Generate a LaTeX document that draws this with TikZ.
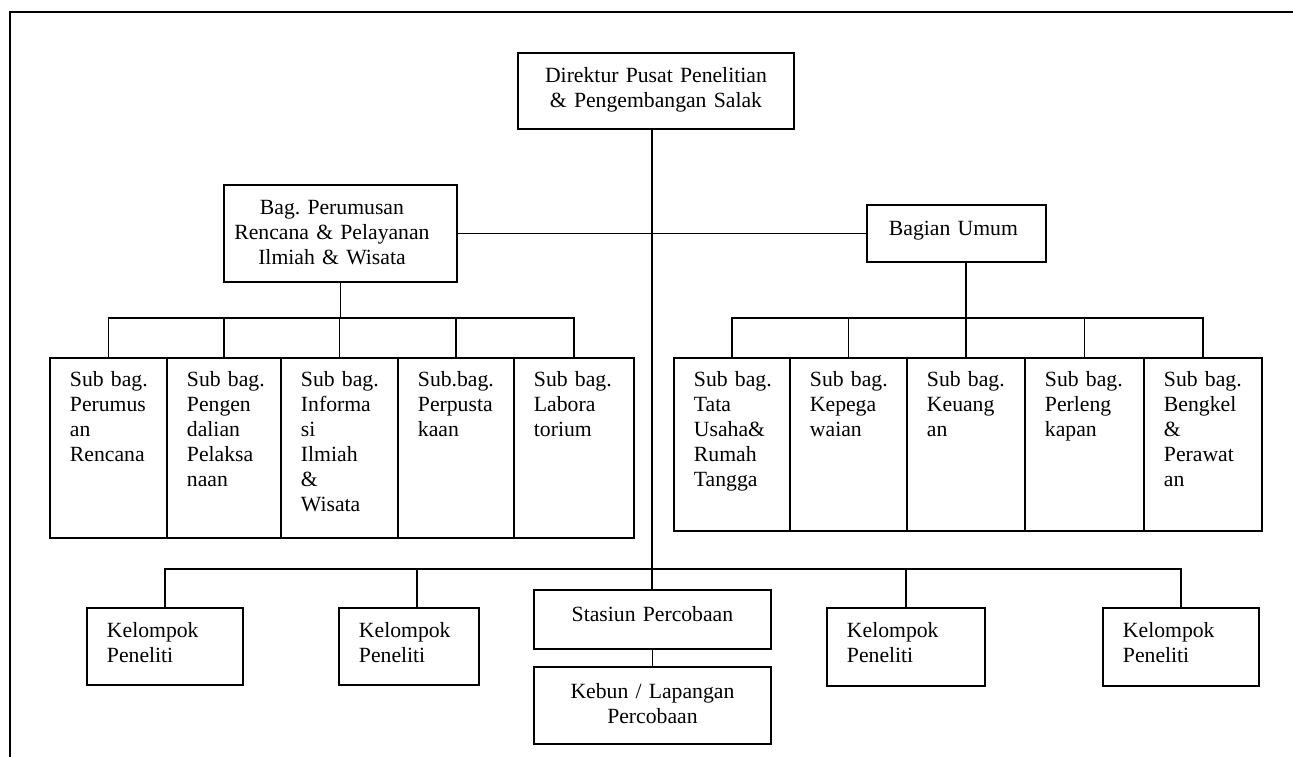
\documentclass[tikz,border=0pt]{standalone}
\usepackage{fontspec}
\setmainfont{Liberation Serif}
\begin{document}
\begin{tikzpicture}[x=1pt,y=-1pt,
  base/.style={draw, line width=1.9pt, inner sep=0pt, anchor=north west,
    font=\fontsize{21.7}{25}\selectfont},
  % left-aligned box: width, first baseline from top, rest of the height
  cell/.style n args={3}{base, align=left, text width=#1pt, text height=#2pt,
    text depth=#3pt, execute at begin node={\leftskip=20pt\relax}},
  % centred box: width, first baseline from top, rest of the height
  ctr/.style n args={3}{base, align=center, text width=#1pt, text height=#2pt,
    text depth=#3pt},
  link/.style={line width=1.7pt},
  frame/.style={line width=2pt}]
\useasboundingbox (0,0) rectangle (1293,757);

% page frame
\draw[frame] (10,757) -- (10,12) -- (1293,12);

% top level
\node[ctr={276}{30}{46}] (dir) at (517,52)
  {Direktur Pusat Penelitian\\\& Pengembangan Salak};
\node[ctr={233}{30}{67}, execute at begin node={\leftskip=0pt plus 1fil
    \rightskip=17pt plus 1fil\parfillskip=0pt\relax}]
  (bag) at (223,184) {Bag.\ Perumusan\\Rencana \& Pelayanan\\Ilmiah \& Wisata};
\node[cell={179}{31}{26}, execute at begin node={\leftskip=22pt\relax}]
  (bu) at (866,204) {Bagian Umum};

% sub-sections under Bag. Perumusan
\node[cell={117}{29}{151}] (l1) at (49,357)  {Sub bag.\\Perumus\\an\\Rencana};
\node[cell={114}{29}{151}] (l2) at (166,357) {Sub bag.\\Pengen\\dalian\\Pelaksa\\naan};
\node[cell={117}{29}{151}] (l3) at (280,357) {Sub bag.\\Informa\\si\\Ilmiah\\\&\\Wisata};
\node[cell={116}{29}{151}] (l4) at (397,357) {Sub.bag.\\Perpusta\\kaan};
\node[cell={120}{29}{151}] (l5) at (513,357) {Sub bag.\\Labora\\torium};

% sub-sections under Bagian Umum
\node[cell={116}{29}{144}] (r1) at (673,357)  {Sub bag.\\Tata\\Usaha\&\\Rumah\\Tangga};
\node[cell={117}{29}{144}] (r2) at (789,357)  {Sub bag.\\Kepega\\waian};
\node[cell={118}{29}{144}] (r3) at (906,357)  {Sub bag.\\Keuang\\an};
\node[cell={119}{29}{144}] (r4) at (1024,357) {Sub bag.\\Perleng\\kapan};
\node[cell={118}{29}{144}] (r5) at (1143,357) {Sub bag.\\Bengkel\\\&\\Perawat\\an};

% bottom row
\node[cell={156}{30}{47}] (k1) at (86,607)   {Kelompok\\Peneliti};
\node[cell={140}{30}{47}] (k2) at (338,607)  {Kelompok\\Peneliti};
\node[ctr={237}{32}{27}]  (sta) at (533,589) {Stasiun Percobaan};
\node[ctr={237}{32}{45}]  (keb) at (533,666) {Kebun / Lapangan\\Percobaan};
\node[cell={158}{30}{48}] (k3) at (826,607)  {Kelompok\\Peneliti};
\node[cell={156}{30}{48}] (k4) at (1102,607) {Kelompok\\Peneliti};

% bus levels
\coordinate (busL) at (0,318);
\coordinate (busR) at (0,318);
\coordinate (busB) at (652,569);

% connectors
\draw[link] (dir.south -| busB) -- (sta.north -| busB);
\draw[link] (bag.east) -- (bu.west);

\draw[link] (bag.south) -- (bag.south |- busL);
\draw[link] (l1.north) |- (l5.north |- busL) -- (l5.north);
\foreach \n in {l2,l3,l4} \draw[link] (\n.north) -- (\n.north |- busL);

\draw[link] (r3.north |- bu.south) -- (r3.north |- busR);
\draw[link] (r1.north) |- (r5.north |- busR) -- (r5.north);
\foreach \n in {r2,r3,r4} \draw[link] (\n.north) -- (\n.north |- busR);

\draw[link] (k1.north) |- (k4.north |- busB) -- (k4.north);
\draw[link] ([xshift=8pt]k2.north) -- ([xshift=8pt]k2.north |- busB);
\draw[link] (k3.north) -- (k3.north |- busB);
\draw[link] (sta.south) -- (keb.north);
\end{tikzpicture}
\end{document}
